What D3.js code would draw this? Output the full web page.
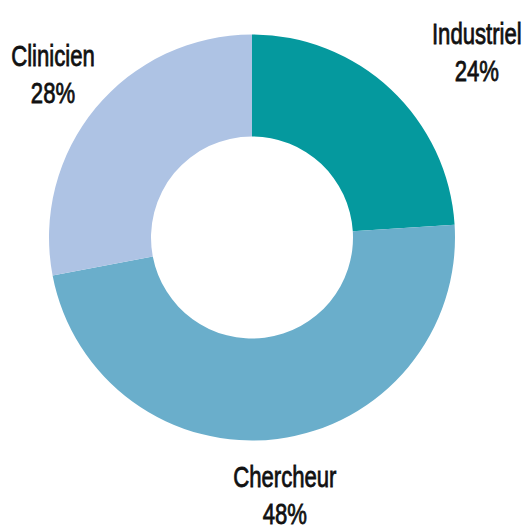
<!DOCTYPE html>
<html>
<head>
<meta charset="utf-8">
<script src="https://cdn.jsdelivr.net/npm/d3@7"></script>
<style>
  html, body { margin: 0; padding: 0; background: #fff; }
  svg { display: block; }
</style>
</head>
<body>
<div id="chart"></div>
<script>
// données
const categories = ["Industriel", "Chercheur", "Clinicien"];
const values = [24, 48, 28];
const colors = ["#05999e", "#6aaecb", "#aec3e4"];

const width = 523, height = 527;
const cx = 252, cy = 237.5;
const outerR = 203, innerR = 101, labelR = 270;

// petits décalages des étiquettes (en px) pour éviter le bord
const labelNudge = {Industriel: [40, 22], Chercheur: [-1, 0], Clinicien: [9, 19]};

const svg = d3.select("#chart")
    .append("svg")
    .attr("width", width)
    .attr("height", height)
    .attr("viewBox", `0 0 ${width} ${height}`);

const g = svg.append("g").attr("transform", `translate(${cx},${cy})`);

const data = categories.map((c, i) => ({cat: c, value: values[i], color: colors[i]}));

const pie = d3.pie().value(d => d.value).sort(null);
const arc = d3.arc().innerRadius(innerR).outerRadius(outerR);
const labelArc = d3.arc().innerRadius(labelR).outerRadius(labelR);

const arcs = pie(data);

g.selectAll("path")
    .data(arcs)
    .enter()
    .append("path")
    .attr("d", arc)
    .attr("fill", d => d.data.color);

// police condensée simulée : Liberation Sans compressée horizontalement
const labels = g.selectAll("text.lbl")
    .data(arcs)
    .enter()
    .append("text")
    .attr("class", "lbl")
    .attr("text-anchor", "middle")
    .attr("transform", d => {
        const [x, y] = labelArc.centroid(d);
        const n = labelNudge[d.data.cat];
        return `translate(${x + n[0]},${y + n[1]}) scale(0.75,1)`;
    })
    .style("font-family", "'Liberation Sans', Arial, sans-serif")
    .style("font-size", "29.5px")
    .attr("fill", "#111")
    .attr("stroke", "#111")
    .attr("stroke-width", 0.8);

labels.append("tspan").attr("x", 0).attr("y", -18.5).text(d => d.data.cat);
labels.append("tspan").attr("x", 0).attr("y", 18.5).text(d => d.data.value + "%");
</script>
</body>
</html>
